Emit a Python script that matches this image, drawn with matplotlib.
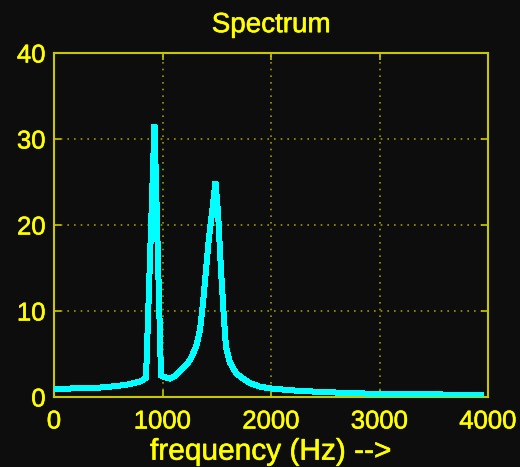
import numpy as np
import matplotlib
matplotlib.use("Agg")
import matplotlib.pyplot as plt
import matplotlib.patheffects as pe

# spectrum magnitude read at these frequencies (Hz)
freq = [0, 200, 424, 580, 700, 793, 848, 926, 986, 1020, 1069, 1110, 1161, 1210,
        1253, 1309, 1346, 1373, 1401, 1429, 1456, 1488, 1512, 1539, 1567, 1585,
        1622, 1677, 1714, 1760, 1810, 1899, 1991, 2267, 2636, 3005, 3500, 3935]
mag = [0.95, 1.0, 1.1, 1.28, 1.5, 1.8, 2.2, 31.7, 2.5, 2.3, 2.15, 2.4, 3.0, 3.6,
       4.3, 5.8, 7.8, 10.9, 14.8, 18.6, 21.4, 25.0, 21.4, 14.8, 9.0, 5.8,
       4.0, 2.8, 2.4, 2.0, 1.6, 1.2, 1.0, 0.7, 0.5, 0.35, 0.3, 0.25]

xticks = [0, 1000, 2000, 3000, 4000]
yticks = [0, 10, 20, 30, 40]

bg = "#0d0d0d"
fg = "#ffff00"
axis_col = "#c8c800"

plt.rcParams['font.family'] = ['Liberation Sans', 'DejaVu Sans']

fig = plt.figure(figsize=(5.2, 4.67), dpi=100, facecolor=bg)
ax = fig.add_axes([54 / 520, 1 - 397 / 467, 434 / 520, 344 / 467], facecolor=bg)

ax.plot(freq, mag, color="#00ffff", lw=3.6, solid_joinstyle="miter",
        antialiased=False, zorder=3)

ax.set_xlim(0, 4000)
ax.set_ylim(0, 40)
ax.set_xticks(xticks)
ax.set_yticks(yticks)
ax.grid(True, color="#9a9a00", linestyle=(0, (1, 3)), linewidth=1.2)

for s in ax.spines.values():
    s.set_color(axis_col)
    s.set_linewidth(1.5)
ax.tick_params(direction="in", colors=axis_col, length=5, width=1.2,
               labelcolor=fg, labelsize=18.5, top=True, right=True)
ax.tick_params(axis="y", pad=6)
ax.tick_params(axis="x", pad=9)

ax.set_title("Spectrum", color=fg, fontsize=20, pad=15)
ax.set_xlabel("frequency (Hz) -->", color=fg, fontsize=21.5, labelpad=3)

# slightly heavier glyphs
thick = [pe.withStroke(linewidth=0.4, foreground=fg)]
for t in ax.get_xticklabels() + ax.get_yticklabels() + [ax.title, ax.xaxis.label]:
    t.set_path_effects(thick)

fig.savefig("out.png", dpi=100, facecolor=bg)
